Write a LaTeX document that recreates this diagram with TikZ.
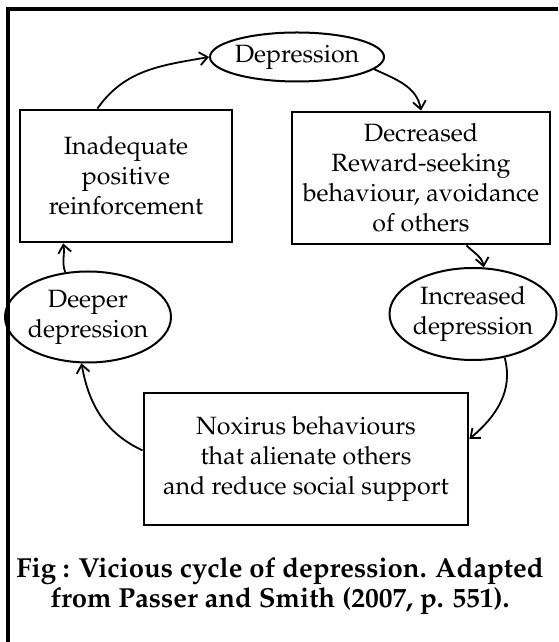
\documentclass[tikz,border=0pt]{standalone}
\usepackage[T1]{fontenc}
\usepackage{mathpazo}
\usetikzlibrary{arrows.meta,shapes.geometric}

\begin{document}
\begin{tikzpicture}[x=1pt, y=1pt, every node/.style={font=\fontsize{25}{30}\selectfont, align=center}, >={Straight Barb[length=8pt,width=13pt]},
	box/.style={draw, line width=2.8pt, inner sep=0pt},
	oval/.style={draw, ellipse, line width=2pt, inner sep=0pt, inner xsep=-3pt},
	link/.style={->, line width=1.8pt}]
	\useasboundingbox (0,0) rectangle (558,642);
	\draw[line width=3.2pt] (8,0) -- (8,633) -- (558,633);
	\node[oval, inner xsep=-10pt, minimum width=174, minimum height=49] (dep) at (297,585) {Depression};
	\node[box, minimum width=212, minimum height=132] (inad) at (126,466) {Inadequate\\positive\\reinforcement};
	\node[box, minimum width=258, minimum height=132] (decr) at (421,464) {Decreased\\Reward-seeking\\behaviour, avoidance\\of others};
	\node[oval, minimum width=167, minimum height=92] (incr) at (473,328) {Increased\\depression};
	\node[oval, minimum width=166, minimum height=91] (deep) at (88,325) {Deeper\\depression};
	\node[box, minimum width=324, minimum height=132] (nox) at (306,183) {Noxirus behaviours\\that alienate others\\and reduce social support};
	\node[font=\fontsize{27.5}{30}\selectfont\bfseries] (cap) at (280,56) {Fig : Vicious cycle of depression. Adapted\\from Passer and Smith (2007, p. 551).};
	\draw[link] (inad.113) to[out=55, in=190] (dep.west);
	\draw[link] (dep.-9) to[out=-25, in=100] (decr.north);
	\draw[link] (decr.-56) to[out=-45, in=100] (incr.77);
	\draw[link] (incr.-54) to[out=-75, in=40] (nox.7);
	\draw[link] (nox.177) to[out=155, in=-80] (deep.-98);
	\draw[link] (deep.117) to[out=110, in=-80] (inad.-133);
\end{tikzpicture}
\end{document}
